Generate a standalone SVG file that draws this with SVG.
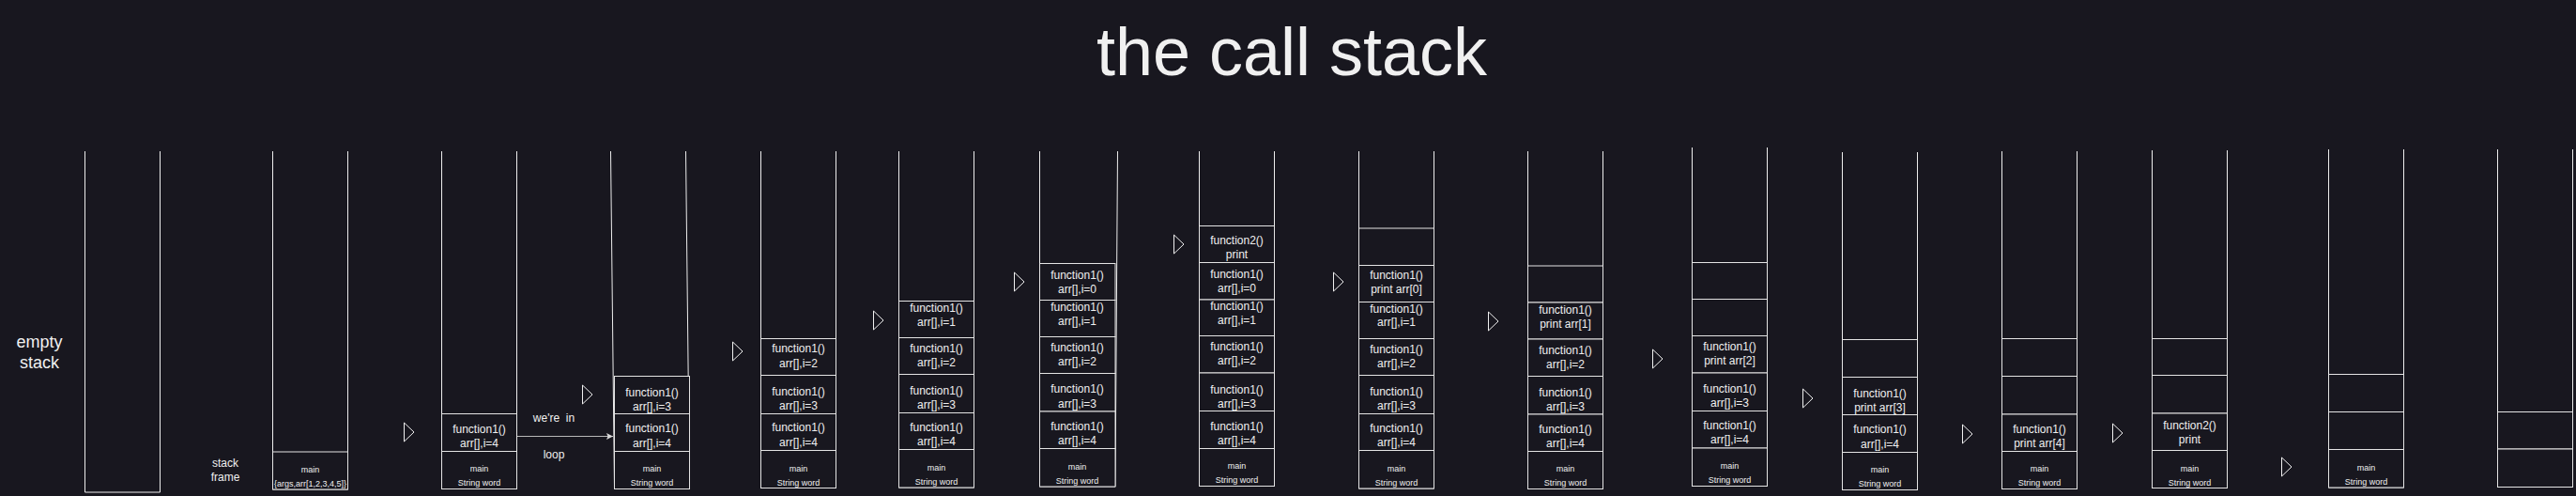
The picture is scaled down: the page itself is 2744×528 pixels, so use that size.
<svg xmlns="http://www.w3.org/2000/svg" width="2744" height="528" viewBox="0 0 2744 528">
<style>
.bg{fill:#18171f}
.c{fill:none;stroke:#ededed;stroke-width:1}
.f{fill:#18171f;stroke:#e4e4e4;stroke-width:1}
.tri{fill:#18171f;stroke:#f0f0f0;stroke-width:1}
text{font-family:"Liberation Sans",Arial,Helvetica,sans-serif;fill:#f0f0f0;text-anchor:middle}
.t12{font-size:12px}
.t9{font-size:9px}
.t18{font-size:18px}
.title{font-size:72px}
.conn{fill:none;stroke:#b8b8b8;stroke-width:1}
</style>
<defs>
<marker id="ah" markerWidth="8" markerHeight="8" viewBox="0 0 8 8" refX="7" refY="4" orient="auto" markerUnits="userSpaceOnUse">
<path d="M0,0.5 L7,4 L0,7.5 L1.5,4 Z" fill="#d8d8d8"/>
</marker>
</defs>
<rect class="bg" x="0" y="0" width="2744" height="528"/>

<g id="title"><text class="title" x="1376" y="80">the call stack</text></g>

<g id="labels">
<text class="t18" x="42" y="370">empty</text>
<text class="t18" x="42" y="392">stack</text>
<text class="t12" x="240" y="497">stack</text>
<text class="t12" x="240" y="512">frame</text>
<text class="t12" x="590" y="449" xml:space="preserve">we're  in</text>
<text class="t12" x="590" y="488">loop</text>
</g>

<g id="triangles">
<polygon class="tri" points="430.5,450 430.5,470 441,460"/>
<polygon class="tri" points="620.5,410 620.5,430 631,420"/>
<polygon class="tri" points="780.5,364 780.5,384 791,374"/>
<polygon class="tri" points="930.5,331 930.5,351 941,341"/>
<polygon class="tri" points="1080.5,290 1080.5,310 1091,300"/>
<polygon class="tri" points="1250.5,250 1250.5,270 1261,260"/>
<polygon class="tri" points="1420.5,290 1420.5,310 1431,300"/>
<polygon class="tri" points="1585.5,332 1585.5,352 1596,342"/>
<polygon class="tri" points="1760.5,372 1760.5,392 1771,382"/>
<polygon class="tri" points="1920.5,414 1920.5,434 1931,424"/>
<polygon class="tri" points="2090.5,452 2090.5,472 2101,462"/>
<polygon class="tri" points="2250.5,451 2250.5,471 2261,461"/>
<polygon class="tri" points="2430.5,487 2430.5,507 2441,497"/>
</g>

<g id="connectors">
<path class="conn" d="M550.5,464.5 L653,464.5" marker-end="url(#ah)"/>
</g>

<g id="stack1">
<path class="c" d="M90.5,161 V524 H170.5 V161"/>
</g>

<g id="stack2">
<path class="c" d="M290.5,161 V521 H370.5 V161"/>
<rect class="f" x="290.5" y="481" width="80" height="40"/>
<text class="t9" x="330.5" y="503">main</text>
<text class="t9" x="330.5" y="518">{args,arr[1,2,3,4,5]}</text>
</g>

<g id="stack3">
<path class="c" d="M470.5,161 V520.5 H550.5 V161"/>
<rect class="f" x="470.5" y="440.5" width="80" height="40"/>
<rect class="f" x="470.5" y="480.5" width="80" height="40"/>
<text class="t12" x="510.5" y="461">function1()</text>
<text class="t12" x="510.5" y="476">arr[],i=4</text>
<text class="t9" x="510.5" y="502">main</text>
<text class="t9" x="510.5" y="517">String word</text>
</g>

<g id="stack4">
<path class="c" d="M650.5,161 L654.5,520.5 H734.5 L730.5,161"/>
<rect class="f" x="654.5" y="400.5" width="80" height="40"/>
<rect class="f" x="654.5" y="440.5" width="80" height="40"/>
<rect class="f" x="654.5" y="480.5" width="80" height="40"/>
<text class="t12" x="694.5" y="422">function1()</text>
<text class="t12" x="694.5" y="437">arr[],i=3</text>
<text class="t12" x="694.5" y="460">function1()</text>
<text class="t12" x="694.5" y="476">arr[],i=4</text>
<text class="t9" x="694.5" y="502">main</text>
<text class="t9" x="694.5" y="517">String word</text>
</g>

<g id="stack5">
<path class="c" d="M810.5,161 V519.5 H890.5 V161"/>
<rect class="f" x="810.5" y="360.5" width="80" height="39"/>
<rect class="f" x="810.5" y="399.5" width="80" height="41"/>
<rect class="f" x="810.5" y="440.5" width="80" height="39"/>
<rect class="f" x="810.5" y="479.5" width="80" height="40"/>
<text class="t12" x="850.5" y="375">function1()</text>
<text class="t12" x="850.5" y="391">arr[],i=2</text>
<text class="t12" x="850.5" y="421">function1()</text>
<text class="t12" x="850.5" y="436">arr[],i=3</text>
<text class="t12" x="850.5" y="459">function1()</text>
<text class="t12" x="850.5" y="475">arr[],i=4</text>
<text class="t9" x="850.5" y="502">main</text>
<text class="t9" x="850.5" y="517">String word</text>
</g>

<g id="stack6">
<path class="c" d="M957.5,161 V519 H1037.5 V161"/>
<rect class="f" x="957.5" y="320.5" width="80" height="39"/>
<rect class="f" x="957.5" y="359.5" width="80" height="39"/>
<rect class="f" x="957.5" y="398.5" width="80" height="41"/>
<rect class="f" x="957.5" y="439.5" width="80" height="39"/>
<rect class="f" x="957.5" y="478.5" width="80" height="40.5"/>
<text class="t12" x="997.5" y="332">function1()</text>
<text class="t12" x="997.5" y="347">arr[],i=1</text>
<text class="t12" x="997.5" y="375">function1()</text>
<text class="t12" x="997.5" y="390">arr[],i=2</text>
<text class="t12" x="997.5" y="420">function1()</text>
<text class="t12" x="997.5" y="435">arr[],i=3</text>
<text class="t12" x="997.5" y="459">function1()</text>
<text class="t12" x="997.5" y="474">arr[],i=4</text>
<text class="t9" x="997.5" y="501">main</text>
<text class="t9" x="997.5" y="516">String word</text>
</g>

<g id="stack7">
<path class="c" d="M1107.5,161 V518 H1188 L1190.5,161"/>
<rect class="f" x="1107.5" y="280.5" width="80.5" height="39"/>
<rect class="f" x="1107.5" y="319.5" width="80.5" height="39"/>
<rect class="f" x="1107.5" y="358.5" width="80.5" height="39"/>
<rect class="f" x="1107.5" y="397.5" width="80.5" height="40.5"/>
<rect class="f" x="1107.5" y="438" width="80.5" height="39.5"/>
<rect class="f" x="1107.5" y="477.5" width="80.5" height="40.5"/>
<text class="t12" x="1147.5" y="297">function1()</text>
<text class="t12" x="1147.5" y="312">arr[],i=0</text>
<text class="t12" x="1147.5" y="331">function1()</text>
<text class="t12" x="1147.5" y="346">arr[],i=1</text>
<text class="t12" x="1147.5" y="374">function1()</text>
<text class="t12" x="1147.5" y="389">arr[],i=2</text>
<text class="t12" x="1147.5" y="418">function1()</text>
<text class="t12" x="1147.5" y="434">arr[],i=3</text>
<text class="t12" x="1147.5" y="458">function1()</text>
<text class="t12" x="1147.5" y="473">arr[],i=4</text>
<text class="t9" x="1147.5" y="500">main</text>
<text class="t9" x="1147.5" y="515">String word</text>
</g>

<g id="stack8">
<path class="c" d="M1277.5,161 V517.5 H1357.5 V161"/>
<rect class="f" x="1277.5" y="240.5" width="80" height="39"/>
<rect class="f" x="1277.5" y="279.5" width="80" height="39.5"/>
<rect class="f" x="1277.5" y="319" width="80" height="38.5"/>
<rect class="f" x="1277.5" y="357.5" width="80" height="39.5"/>
<rect class="f" x="1277.5" y="397" width="80" height="40.5"/>
<rect class="f" x="1277.5" y="437.5" width="80" height="40"/>
<rect class="f" x="1277.5" y="477.5" width="80" height="40"/>
<text class="t12" x="1317.5" y="260">function2()</text>
<text class="t12" x="1317.5" y="275">print</text>
<text class="t12" x="1317.5" y="296">function1()</text>
<text class="t12" x="1317.5" y="311">arr[],i=0</text>
<text class="t12" x="1317.5" y="330">function1()</text>
<text class="t12" x="1317.5" y="345">arr[],i=1</text>
<text class="t12" x="1317.5" y="373">function1()</text>
<text class="t12" x="1317.5" y="388">arr[],i=2</text>
<text class="t12" x="1317.5" y="419">function1()</text>
<text class="t12" x="1317.5" y="434">arr[],i=3</text>
<text class="t12" x="1317.5" y="458">function1()</text>
<text class="t12" x="1317.5" y="473">arr[],i=4</text>
<text class="t9" x="1317.5" y="499">main</text>
<text class="t9" x="1317.5" y="514">String word</text>
</g>

<g id="stack9">
<path class="c" d="M1447.5,161 V520 H1527.5 V161"/>
<rect class="f" x="1447.5" y="243" width="80" height="39.5"/>
<rect class="f" x="1447.5" y="282.5" width="80" height="39"/>
<rect class="f" x="1447.5" y="321.5" width="80" height="39"/>
<rect class="f" x="1447.5" y="360.5" width="80" height="39"/>
<rect class="f" x="1447.5" y="399.5" width="80" height="41"/>
<rect class="f" x="1447.5" y="440.5" width="80" height="39"/>
<rect class="f" x="1447.5" y="479.5" width="80" height="40.5"/>
<text class="t12" x="1487.5" y="297">function1()</text>
<text class="t12" x="1487.5" y="312">print arr[0]</text>
<text class="t12" x="1487.5" y="333">function1()</text>
<text class="t12" x="1487.5" y="347">arr[],i=1</text>
<text class="t12" x="1487.5" y="376">function1()</text>
<text class="t12" x="1487.5" y="391">arr[],i=2</text>
<text class="t12" x="1487.5" y="421">function1()</text>
<text class="t12" x="1487.5" y="436">arr[],i=3</text>
<text class="t12" x="1487.5" y="460">function1()</text>
<text class="t12" x="1487.5" y="475">arr[],i=4</text>
<text class="t9" x="1487.5" y="502">main</text>
<text class="t9" x="1487.5" y="517">String word</text>
</g>

<g id="stack10">
<path class="c" d="M1627.5,161 V520.5 H1707.5 V161"/>
<rect class="f" x="1627.5" y="283" width="80" height="39"/>
<rect class="f" x="1627.5" y="322" width="80" height="39"/>
<rect class="f" x="1627.5" y="361" width="80" height="39.5"/>
<rect class="f" x="1627.5" y="400.5" width="80" height="40.5"/>
<rect class="f" x="1627.5" y="441" width="80" height="39.5"/>
<rect class="f" x="1627.5" y="480.5" width="80" height="40"/>
<text class="t12" x="1667.5" y="334">function1()</text>
<text class="t12" x="1667.5" y="349">print arr[1]</text>
<text class="t12" x="1667.5" y="377">function1()</text>
<text class="t12" x="1667.5" y="392">arr[],i=2</text>
<text class="t12" x="1667.5" y="422">function1()</text>
<text class="t12" x="1667.5" y="437">arr[],i=3</text>
<text class="t12" x="1667.5" y="461">function1()</text>
<text class="t12" x="1667.5" y="476">arr[],i=4</text>
<text class="t9" x="1667.5" y="502">main</text>
<text class="t9" x="1667.5" y="517">String word</text>
</g>

<g id="stack11">
<path class="c" d="M1802.5,157 V517.5 H1882.5 V157"/>
<rect class="f" x="1802.5" y="279.5" width="80" height="39"/>
<rect class="f" x="1802.5" y="318.5" width="80" height="39"/>
<rect class="f" x="1802.5" y="357.5" width="80" height="39.5"/>
<rect class="f" x="1802.5" y="397" width="80" height="40.5"/>
<rect class="f" x="1802.5" y="437.5" width="80" height="39.5"/>
<rect class="f" x="1802.5" y="477" width="80" height="40.5"/>
<text class="t12" x="1842.5" y="373">function1()</text>
<text class="t12" x="1842.5" y="388">print arr[2]</text>
<text class="t12" x="1842.5" y="418">function1()</text>
<text class="t12" x="1842.5" y="433">arr[],i=3</text>
<text class="t12" x="1842.5" y="457">function1()</text>
<text class="t12" x="1842.5" y="472">arr[],i=4</text>
<text class="t9" x="1842.5" y="499">main</text>
<text class="t9" x="1842.5" y="514">String word</text>
</g>

<g id="stack12">
<path class="c" d="M1962.5,162 V521.5 H2042.5 V162"/>
<rect class="f" x="1962.5" y="361.5" width="80" height="40"/>
<rect class="f" x="1962.5" y="401.5" width="80" height="40"/>
<rect class="f" x="1962.5" y="441.5" width="80" height="40"/>
<rect class="f" x="1962.5" y="481.5" width="80" height="40"/>
<text class="t12" x="2002.5" y="423">function1()</text>
<text class="t12" x="2002.5" y="438">print arr[3]</text>
<text class="t12" x="2002.5" y="461">function1()</text>
<text class="t12" x="2002.5" y="477">arr[],i=4</text>
<text class="t9" x="2002.5" y="503">main</text>
<text class="t9" x="2002.5" y="518">String word</text>
</g>

<g id="stack13">
<path class="c" d="M2132.5,161 V520.5 H2212.5 V161"/>
<rect class="f" x="2132.5" y="360.5" width="80" height="40"/>
<rect class="f" x="2132.5" y="400.5" width="80" height="40.5"/>
<rect class="f" x="2132.5" y="441" width="80" height="39.5"/>
<rect class="f" x="2132.5" y="480.5" width="80" height="40"/>
<text class="t12" x="2172.5" y="461">function1()</text>
<text class="t12" x="2172.5" y="476">print arr[4]</text>
<text class="t9" x="2172.5" y="502">main</text>
<text class="t9" x="2172.5" y="517">String word</text>
</g>

<g id="stack14">
<path class="c" d="M2292.5,160 V519.5 H2372.5 V160"/>
<rect class="f" x="2292.5" y="360.5" width="80" height="39"/>
<rect class="f" x="2292.5" y="399.5" width="80" height="40.5"/>
<rect class="f" x="2292.5" y="440" width="80" height="39.5"/>
<rect class="f" x="2292.5" y="479.5" width="80" height="40"/>
<text class="t12" x="2332.5" y="457">function2()</text>
<text class="t12" x="2332.5" y="472">print</text>
<text class="t9" x="2332.5" y="502">main</text>
<text class="t9" x="2332.5" y="517">String word</text>
</g>

<g id="stack15">
<path class="c" d="M2480.5,159 V519 H2560.5 V159"/>
<rect class="f" x="2480.5" y="398.5" width="80" height="40"/>
<rect class="f" x="2480.5" y="438.5" width="80" height="40"/>
<rect class="f" x="2480.5" y="478.5" width="80" height="40.5"/>
<text class="t9" x="2520.5" y="501">main</text>
<text class="t9" x="2520.5" y="516">String word</text>
</g>

<g id="stack16">
<path class="c" d="M2660.5,159 V518.5 H2740.5 V159"/>
<rect class="f" x="2660.5" y="438.5" width="80" height="39.5"/>
<rect class="f" x="2660.5" y="478" width="80" height="40.5"/>
</g>
</svg>
